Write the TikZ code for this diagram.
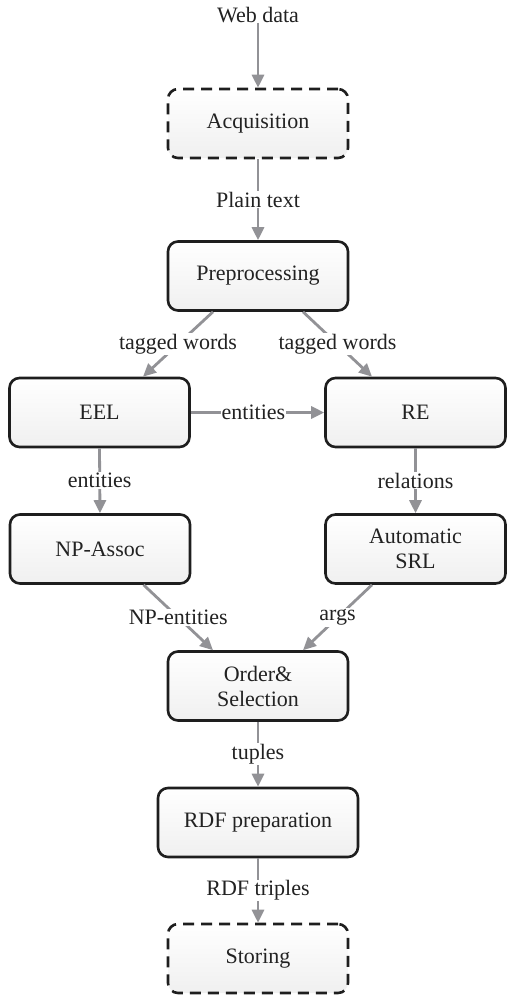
\documentclass[tikz,border=0pt]{standalone}
\usepackage{fontspec}
\setmainfont{Liberation Serif}
\usetikzlibrary{arrows.meta}
\definecolor{boxline}{HTML}{1E1E1E}
\definecolor{arrowgray}{HTML}{929296}
\definecolor{txt}{HTML}{222222}
\tikzset{
  stage/.style={draw=boxline, line width=2.6pt, rounded corners=10pt,
    top color=white, bottom color=black!6, minimum width=180pt, minimum height=69pt,
    align=center, text=txt, font=\fontsize{22}{25}\selectfont, inner sep=2pt},
  dashstage/.style={stage, dash pattern=on 11pt off 7pt},
  flow/.style={draw=arrowgray, line width=2.8pt, -{Triangle[length=13pt,width=12pt]}},
  lbl/.style={fill=white, text=txt, font=\fontsize{22}{25}\selectfont, inner sep=1pt}
}
\begin{document}
\begin{tikzpicture}[x=1pt,y=-1pt]
\useasboundingbox (0,0) rectangle (507,998);
\node[lbl, inner sep=0pt] (web) at (258,15) {Web data};
\node[dashstage] (acq) at (258,123.5) {Acquisition};
\node[stage] (pre) at (258,276) {Preprocessing};
\node[stage] (eel) at (99.5,412.5) {EEL};
\node[stage] (re) at (415.5,412.5) {RE};
\node[stage] (np) at (100,549) {NP-Assoc};
\node[stage] (srl) at (415.5,549) {Automatic\\SRL};
\node[stage] (ord) at (258,686) {Order\&\\Selection};
\node[stage, minimum width=200pt] (rdf) at (258,822.5) {RDF preparation};
\node[dashstage] (sto) at (258,958.5) {Storing};

\draw[flow] (web.south) -- (acq.north);
\draw[flow] (acq.south) -- node[lbl] {Plain text} (pre.north);
\draw[flow] ([xshift=-45pt]pre.south) -- node[lbl, pos=0.5] {tagged words} ([xshift=43.5pt]eel.north);
\draw[flow] ([xshift=45pt]pre.south) -- node[lbl, pos=0.5] {tagged words} ([xshift=-43.5pt]re.north);
\draw[flow] (eel.east) -- node[lbl, pos=0.47] {entities} (re.west);
\draw[flow] (eel.south) -- node[lbl] {entities} (np.north);
\draw[flow] (re.south) -- node[lbl] {relations} (srl.north);
\draw[flow] ([xshift=43.5pt]np.south) -- node[lbl, pos=0.5] {NP-entities} ([xshift=-45pt]ord.north);
\draw[flow] ([xshift=-43.5pt]srl.south) -- node[lbl, pos=0.5] {args} ([xshift=45pt]ord.north);
\draw[flow] (ord.south) -- node[lbl] {tuples} (rdf.north);
\draw[flow] (rdf.south) -- node[lbl] {RDF triples} (sto.north);
\end{tikzpicture}
\end{document}
